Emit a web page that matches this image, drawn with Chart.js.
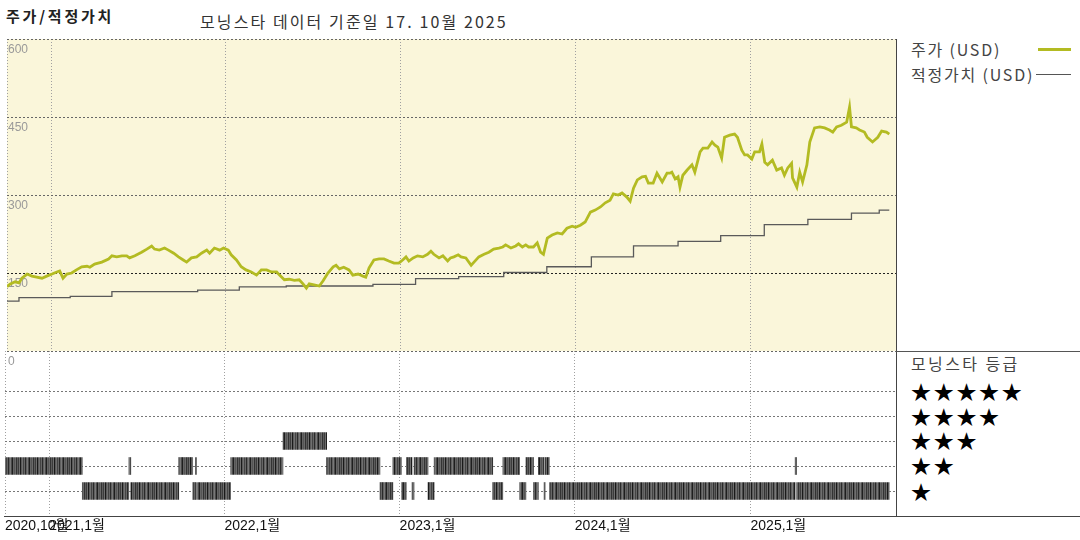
<!DOCTYPE html>
<html>
<head>
<meta charset="utf-8">
<script src="https://cdn.jsdelivr.net/npm/chart.js@4/dist/chart.umd.min.js"></script>
<style>
  html, body { margin:0; padding:0; background:#fff; }
  body { width:1080px; height:540px; position:relative; overflow:hidden; font-family:"Noto Sans CJK KR", sans-serif; }
  .abs { position:absolute; white-space:nowrap; }
  #t1 { left:6px; top:6px; font-size:15px; font-weight:bold; letter-spacing:2.8px; color:#222; line-height:20px; }
  #t2 { left:200px; top:11px; font-size:16px; letter-spacing:2.1px; color:#333; line-height:20px; }
  .leg { left:911px; font-size:16px; letter-spacing:1.8px; color:#444; line-height:18px; }
  .stars { left:911px; font-size:20px; letter-spacing:2.7px; color:#000; line-height:24px; font-family:"Noto Sans CJK KR", sans-serif; }
  canvas { position:absolute; left:0; }
</style>
</head>
<body>
<div id="t1" class="abs">주가/적정가치</div>
<div id="t2" class="abs">모닝스타 데이터 기준일 17. 10월 2025</div>

<canvas id="bot" width="900" height="189" style="top:351px;z-index:1"></canvas>
<canvas id="top" width="900" height="372" style="top:0;z-index:2"></canvas>

<div class="abs" style="left:896px;top:39px;width:1px;height:477px;background:#444;z-index:3"></div>
<div class="abs" style="left:4px;top:516px;width:1076px;height:1px;background:#444;z-index:3"></div>
<div class="abs" style="left:896px;top:351px;width:184px;height:1px;background:#555;z-index:3"></div>

<div class="abs leg" style="top:40px">주가 (USD)</div>
<div class="abs" style="left:1038px;top:48px;width:33px;height:3px;background:#B3BB22"></div>
<div class="abs leg" style="top:65px">적정가치 (USD)</div>
<div class="abs" style="left:1036px;top:74px;width:35px;height:1px;background:#555"></div>

<div class="abs leg" style="top:354px;letter-spacing:2.4px">모닝스타 등급</div>
<div class="abs stars" style="top:380px">★★★★★</div>
<div class="abs stars" style="top:405px">★★★★</div>
<div class="abs stars" style="top:429px">★★★</div>
<div class="abs stars" style="top:454px">★★</div>
<div class="abs stars" style="top:480px">★</div>

<script>
// ---------- data ----------
const axisStart = '2020-10-01';
const axisEnd = '2025-10-31';

const tickDates = ['2020-10-01','2021-01-01','2022-01-01','2023-01-01','2024-01-01','2025-01-01'];
const tickLabels = ['2020,10월','2021,1월','2022,1월','2023,1월','2024,1월','2025,1월'];
const priceTicks = [0,150,300,450,600];
const starRows = [1,2,3,4,5];

const priceDates = [
'2020-10-01','2020-10-08','2020-10-18','2020-10-26','2020-11-01','2020-11-12','2020-11-22','2020-12-02','2020-12-13','2020-12-23',
'2021-01-03','2021-01-13','2021-01-19','2021-01-26','2021-02-03','2021-02-13','2021-02-23','2021-03-06','2021-03-17','2021-03-23',
'2021-04-02','2021-04-17','2021-05-01','2021-05-08','2021-05-18','2021-05-29','2021-06-08','2021-06-14','2021-06-25','2021-07-09',
'2021-07-20','2021-07-30','2021-08-05','2021-08-15','2021-08-26','2021-09-03','2021-09-14','2021-09-24','2021-10-04','2021-10-11',
'2021-10-21','2021-11-01','2021-11-11','2021-11-22','2021-11-28','2021-12-08','2021-12-19','2021-12-27','2022-01-06','2022-01-12',
'2022-01-23','2022-02-02','2022-02-12','2022-02-23','2022-03-06','2022-03-16','2022-03-27','2022-04-06','2022-04-17','2022-04-23',
'2022-05-03','2022-05-13','2022-05-24','2022-06-03','2022-06-11','2022-06-18','2022-06-24','2022-07-04','2022-07-15','2022-07-23',
'2022-08-02','2022-08-13','2022-08-19','2022-08-26','2022-09-04','2022-09-15','2022-09-23','2022-10-04','2022-10-14','2022-10-20',
'2022-10-27','2022-11-06','2022-11-17','2022-11-27','2022-12-07','2022-12-18','2022-12-28','2023-01-05','2023-01-12','2023-01-18',
'2023-01-27','2023-02-05','2023-02-16','2023-02-26','2023-03-05','2023-03-11','2023-03-22','2023-03-30','2023-04-09','2023-04-15',
'2023-04-22','2023-05-01','2023-05-07','2023-05-17','2023-05-28','2023-06-03','2023-06-13','2023-06-24','2023-07-04','2023-07-14',
'2023-07-25','2023-08-02','2023-08-08','2023-08-19','2023-08-29','2023-09-04','2023-09-12','2023-09-19','2023-09-25','2023-10-05',
'2023-10-13','2023-10-20','2023-10-26','2023-11-03','2023-11-13','2023-11-24','2023-12-04','2023-12-14','2023-12-25','2024-01-01',
'2024-01-11','2024-01-21','2024-02-01','2024-02-11','2024-02-22','2024-03-03','2024-03-13','2024-03-20','2024-03-30','2024-04-07',
'2024-04-17','2024-04-24','2024-05-01','2024-05-09','2024-05-19','2024-05-26','2024-06-01','2024-06-11','2024-06-19','2024-06-30',
'2024-07-10','2024-07-16','2024-07-20','2024-07-27','2024-08-02','2024-08-06','2024-08-12','2024-08-21','2024-08-31','2024-09-06',
'2024-09-17','2024-09-23','2024-10-03','2024-10-12','2024-10-18','2024-10-24','2024-11-01','2024-11-07','2024-11-18','2024-11-28',
'2024-12-04','2024-12-13','2024-12-19','2024-12-25','2025-01-03','2025-01-09','2025-01-19','2025-01-24','2025-01-30','2025-02-05',
'2025-02-15','2025-02-24','2025-03-06','2025-03-12','2025-03-19','2025-03-27','2025-03-29','2025-04-07','2025-04-13','2025-04-19',
'2025-04-28','2025-05-04','2025-05-14','2025-05-25','2025-06-04','2025-06-14','2025-06-21','2025-06-29','2025-07-09','2025-07-20',
'2025-07-26','2025-07-30','2025-08-09','2025-08-16','2025-08-26','2025-09-01','2025-09-12','2025-09-23','2025-10-01','2025-10-11',
'2025-10-17'];
const priceValues = [
124,129,133,131,140,148,144,142,140,144,
148,152,154,140,148,150,156,162,163,161,
167,171,177,183,181,183,183,179,183,190,
196,202,196,194,198,194,188,181,175,171,
179,181,188,194,188,198,194,198,194,185,
175,162,156,152,146,156,156,152,152,146,
137,138,136,137,129,121,129,127,125,135,
150,162,165,158,161,156,146,148,144,142,
160,175,177,177,173,169,169,175,181,173,
179,183,181,186,192,186,179,183,173,179,
181,185,181,179,165,171,181,186,190,196,
198,200,204,198,202,206,200,204,200,200,
208,190,186,217,223,227,225,236,240,238,
242,248,267,271,277,285,290,302,300,304,
296,288,313,329,335,336,323,323,342,325,
342,342,344,331,335,315,338,348,358,344,
383,390,390,402,396,392,371,411,415,417,
411,386,377,377,369,383,383,398,363,358,
367,348,352,338,352,361,333,315,344,325,
358,402,429,431,429,425,421,431,434,440,
469,431,429,425,421,411,402,411,423,421,
417];

const fairDates = ['2020-10-01','2020-10-26','2021-02-10','2021-05-08','2021-11-03','2022-01-29','2022-05-07','2022-11-04',
'2023-02-01','2023-05-02','2023-08-04','2023-11-02','2024-02-03','2024-05-01','2024-08-02','2024-10-30','2025-01-29',
'2025-04-30','2025-07-30','2025-09-26','2025-10-17'];
const fairValues = [96,102.5,105,114,117,123.5,125,128,139,143,151,162,181,202,211,222,243,253,265,271,271];

const ratingStarts = ['2020-10-01','2021-03-11','2021-06-16','2021-06-20','2021-09-28','2021-10-27','2021-11-02','2021-11-04',
'2022-01-14','2022-05-03','2022-08-02','2022-11-21','2022-12-18','2023-01-05','2023-01-15','2023-01-27','2023-01-31',
'2023-03-01','2023-03-14','2023-07-14','2023-08-04','2023-09-08','2023-09-21','2023-10-07','2023-10-17','2023-10-29',
'2023-10-31','2023-11-09','2025-04-04','2025-04-07'];
const ratingEnds = ['2021-03-11','2021-06-16','2021-06-20','2021-09-28','2021-10-27','2021-11-02','2021-11-04','2022-01-14',
'2022-05-03','2022-08-02','2022-11-21','2022-12-18','2023-01-05','2023-01-15','2023-01-27','2023-01-31','2023-03-01',
'2023-03-14','2023-07-14','2023-08-04','2023-09-08','2023-09-21','2023-10-07','2023-10-17','2023-10-29','2023-10-31',
'2023-11-09','2025-04-04','2025-04-07','2025-10-17'];
const ratingStars = [2,1,2,1,2,1,2,1,2,3,2,1,2,1,2,1,2,1,2,1,2,1,2,1,2,1,2,1,2,1];

// ---------- helpers ----------
const DAY = 86400000;
const d = s => Date.UTC(+s.slice(0,4), +s.slice(5,7) - 1, +s.slice(8,10)) / DAY;

Chart.defaults.font.family = '"Liberation Sans", "Noto Sans CJK KR", sans-serif';

const bgPlugin = {
  id: 'bg',
  beforeDraw(chart, args, opts) {
    const a = chart.chartArea, c = chart.ctx;
    c.save(); c.fillStyle = opts.color; c.fillRect(a.left, a.top, a.right - a.left, a.bottom - a.top); c.restore();
  }
};

// ---------- price / fair value ----------
new Chart(document.getElementById('top'), {
  type: 'line',
  data: {
    datasets: [
      { label: '주가 (USD)', data: priceDates.map((s, i) => ({ x: d(s), y: priceValues[i] })),
        borderColor: '#B3BB22', borderWidth: 2.8, pointRadius: 0, tension: 0, order: 1 },
      { label: '적정가치 (USD)', data: fairDates.map((s, i) => ({ x: d(s), y: fairValues[i] })),
        borderColor: '#5a5a5a', borderWidth: 1.3, pointRadius: 0, stepped: true, order: 2 }
    ]
  },
  options: {
    responsive: false, animation: false, events: [],
    layout: { padding: { left: 5, right: 4, top: 39, bottom: 21 } },
    plugins: { legend: { display: false }, tooltip: { enabled: false }, bg: { color: '#FAF6DA' } },
    scales: {
      x: { type: 'linear', min: d(axisStart), max: d(axisEnd),
        afterBuildTicks: s => { s.ticks = tickDates.map(v => ({ value: d(v) })); },
        ticks: { display: false },
        grid: { color: '#a0a0a0', drawTicks: false, lineWidth: 1 },
        border: { display: false, dash: [1, 2] } },
      y: { min: 0, max: 600,
        afterBuildTicks: s => { s.ticks = priceTicks.map(v => ({ value: v })); },
        ticks: { mirror: true, padding: 1, labelOffset: 11, color: '#999', font: { size: 12 } },
        grid: { color: c => (c.tick && c.tick.value === 150) ? '#222' : '#666', drawTicks: false },
        border: { display: false, dash: [2, 2] } }
    }
  },
  plugins: [bgPlugin]
});

// ---------- ratings ----------
const botCanvas = document.getElementById('bot');
const stripeColors = ['#5c5c5c','#3c3c3c','#6e6e6e','#1a1a1a','#5a5a5a','#707070','#444444','#666666','#2a2a2a',
  '#606060','#787878','#4a4a4a','#1e1e1e','#646464','#555555','#6a6a6a','#333333'];
const pc = document.createElement('canvas');
pc.width = stripeColors.length; pc.height = 1;
const pctx = pc.getContext('2d');
stripeColors.forEach((c, i) => { pctx.fillStyle = c; pctx.fillRect(i, 0, 1, 1); });
const stripe = botCanvas.getContext('2d').createPattern(pc, 'repeat');

new Chart(botCanvas, {
  type: 'bar',
  data: {
    datasets: [{
      data: ratingStarts.map((s, i) => ({ x: [d(s), d(ratingEnds[i])], y: ratingStars[i] })),
      backgroundColor: stripe, borderWidth: 0, barThickness: 17
    }]
  },
  options: {
    indexAxis: 'y', responsive: false, animation: false, events: [],
    layout: { padding: { left: 5, right: 4, top: 0, bottom: 0 } },
    plugins: { legend: { display: false }, tooltip: { enabled: false } },
    scales: {
      x: { type: 'linear', min: d(axisStart), max: d(axisEnd),
        afterBuildTicks: s => { s.ticks = tickDates.map(v => ({ value: d(v) })); },
        afterFit: s => { s.height = 24; },
        ticks: { autoSkip: false, align: 'start', maxRotation: 0, minRotation: 0, padding: 2, color: '#111',
          font: { size: 14 }, callback: (v, i) => tickLabels[i] },
        grid: { color: '#a0a0a0', drawTicks: false },
        border: { display: false, dash: [1, 2] } },
      y: { type: 'linear', min: 0, max: 6.6, offset: false,
        afterBuildTicks: s => { s.ticks = starRows.map(v => ({ value: v })); },
        ticks: { display: false },
        grid: { color: '#777', drawTicks: false, offset: false },
        border: { display: false, dash: [2, 2] } }
    }
  }
});
</script>
</body>
</html>
